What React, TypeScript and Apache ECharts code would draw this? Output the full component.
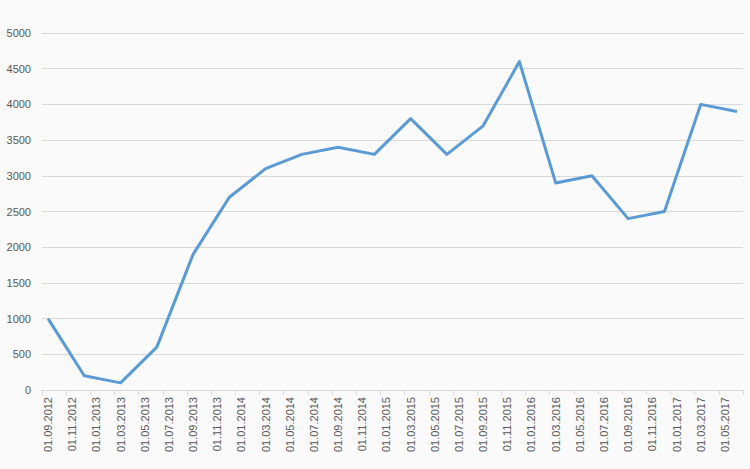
import React, { useEffect, useRef } from "react";
import * as echarts from "echarts";

// Monthly categories (date axis, base unit = month)
const months: string[] = [
  "01.09.2012", "01.10.2012", "01.11.2012", "01.12.2012",
  "01.01.2013", "01.02.2013", "01.03.2013", "01.04.2013", "01.05.2013", "01.06.2013",
  "01.07.2013", "01.08.2013", "01.09.2013", "01.10.2013", "01.11.2013", "01.12.2013",
  "01.01.2014", "01.02.2014", "01.03.2014", "01.04.2014", "01.05.2014", "01.06.2014",
  "01.07.2014", "01.08.2014", "01.09.2014", "01.10.2014", "01.11.2014", "01.12.2014",
  "01.01.2015", "01.02.2015", "01.03.2015", "01.04.2015", "01.05.2015", "01.06.2015",
  "01.07.2015", "01.08.2015", "01.09.2015", "01.10.2015", "01.11.2015", "01.12.2015",
  "01.01.2016", "01.02.2016", "01.03.2016", "01.04.2016", "01.05.2016", "01.06.2016",
  "01.07.2016", "01.08.2016", "01.09.2016", "01.10.2016", "01.11.2016", "01.12.2016",
  "01.01.2017", "01.02.2017", "01.03.2017", "01.04.2017", "01.05.2017", "01.06.2017",
];

// Quarterly observation dates
const pointDates: string[] = [
  "01.09.2012", "01.12.2012", "01.03.2013", "01.06.2013", "01.09.2013",
  "01.12.2013", "01.03.2014", "01.06.2014", "01.09.2014", "01.12.2014",
  "01.03.2015", "01.06.2015", "01.09.2015", "01.12.2015", "01.03.2016",
  "01.06.2016", "01.09.2016", "01.12.2016", "01.03.2017", "01.06.2017",
];

const values: number[] = [
  1000, 200, 100, 600, 1900,
  2700, 3100, 3300, 3400, 3300,
  3800, 3300, 3700, 4600, 2900,
  3000, 2400, 2500, 4000, 3900,
];

export default function App() {
  const ref = useRef<HTMLDivElement>(null);

  useEffect(() => {
    if (!ref.current) return;
    const chart = echarts.init(ref.current, undefined, { renderer: "svg" });
    const font = "'Liberation Sans', Arial, sans-serif";
    chart.setOption({
      animation: false,
      backgroundColor: "#fafafa",
      grid: { left: 42, right: 7, top: 33, bottom: 79, containLabel: false },
      xAxis: {
        type: "category",
        data: months,
        boundaryGap: true,
        axisLine: { show: true, lineStyle: { color: "#d9d9d9", width: 1 } },
        axisTick: { show: true, interval: 1, length: 5, lineStyle: { color: "#d9d9d9" } },
        axisLabel: {
          interval: 1,
          rotate: 90,
          color: "#595959",
          fontSize: 11,
          fontFamily: font,
          margin: 7,
        },
        splitLine: { show: false },
      },
      yAxis: {
        type: "value",
        min: 0,
        max: 5000,
        interval: 500,
        axisLine: { show: false },
        axisTick: { show: false },
        axisLabel: {
          color: "#595959",
          fontSize: 11,
          fontFamily: font,
          margin: 11,
          formatter: (v: number) => String(v),
        },
        splitLine: { show: true, lineStyle: { color: "#d9d9d9", width: 1 } },
      },
      series: [
        {
          type: "line",
          data: pointDates.map((d, i) => [d, values[i]]),
          showSymbol: false,
          symbol: "none",
          lineStyle: { color: "#5b9bd5", width: 3, join: "round" },
          itemStyle: { color: "#5b9bd5" },
        },
      ],
    });
    return () => chart.dispose();
  }, []);

  return <div ref={ref} style={{ width: 750, height: 469, position: "absolute", left: 0, top: 0 }} />;
}
